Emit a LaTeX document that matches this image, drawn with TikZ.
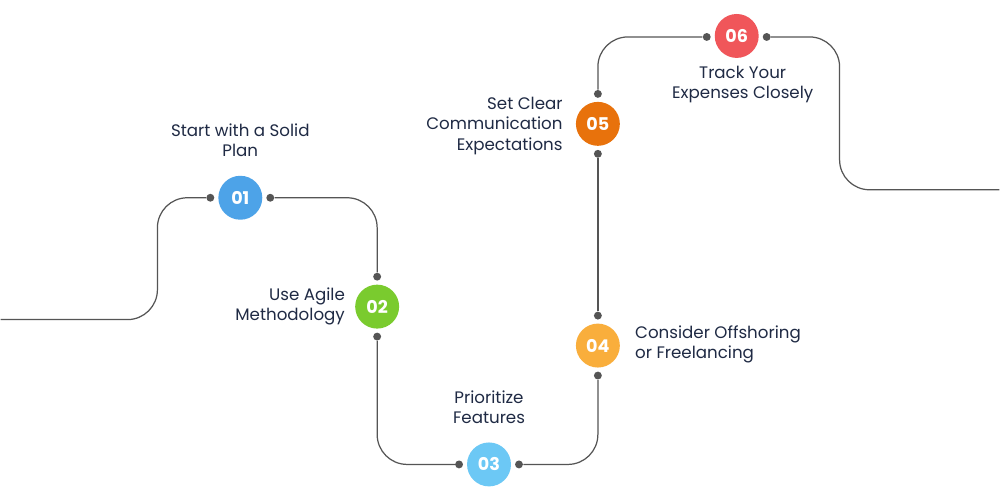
\documentclass[tikz,border=0pt]{standalone}
\usepackage{fontspec}
\setmainfont{Poppins}
\usepackage{tikz}
\usetikzlibrary{positioning}
\definecolor{inkblue}{HTML}{1F2A44}
\definecolor{lineg}{HTML}{555555}
\definecolor{cone}{HTML}{4DA3E8}
\definecolor{ctwo}{HTML}{7ACB2E}
\definecolor{cthree}{HTML}{6CC8F5}
\definecolor{cfour}{HTML}{F9AE3C}
\definecolor{cfive}{HTML}{E8720C}
\definecolor{csix}{HTML}{F0565A}
\tikzset{
  stage/.style={circle,minimum size=0.88cm,inner sep=0pt,text=white,font=\bfseries\fontsize{10}{12}\selectfont},
  lbl/.style={text=inkblue,font=\fontsize{9.5}{11.5}\selectfont,inner sep=0pt},
  dot/.style={circle,fill=lineg,minimum size=4.5pt,inner sep=0pt},
  road/.style={lineg,line width=0.7pt,rounded corners=0.6cm}
}
\begin{document}
\begin{tikzpicture}[x=0.02cm,y=-0.02cm]
    \fill[white] (0,0) rectangle (1000,500);
    % stages
    \node[stage,fill=cone] (s1) at (240,198) {01};
    \node[stage,fill=ctwo] (s2) at (377,307) {02};
    \node[stage,fill=cthree] (s3) at (489,465) {03};
    \node[stage,fill=cfour] (s4) at (598,346) {04};
    \node[stage,fill=cfive] (s5) at (598,124) {05};
    \node[stage,fill=csix] (s6) at (737,36) {06};
    % labels
    \node[lbl,align=center] (t1) at (240,140) {Start with a Solid\\Plan};
    \node[lbl,align=right,anchor=east] (t2) at (345,307) {Use Agile\\Methodology};
    \node[lbl,align=center] (t3) at (489,408) {Prioritize\\Features};
    \node[lbl,align=left,anchor=west] (t4) at (635,345) {Consider Offshoring\\or Freelancing};
    \node[lbl,align=right,anchor=east] (t5) at (563,126) {Set Clear\\Communication\\Expectations};
    \node[lbl,align=center] (t6) at (743,85) {Track Your\\Expenses Closely};
    % dots
    \node[dot] (d1l) at (210,198) {};
    \node[dot] (d1r) at (270,198) {};
    \node[dot] (d2t) at (377,277) {};
    \node[dot] (d2b) at (377,337) {};
    \node[dot] (d3l) at (459,465) {};
    \node[dot] (d3r) at (519,465) {};
    \node[dot] (d4b) at (598,376) {};
    \node[dot] (d4t) at (598,316) {};
    \node[dot] (d5b) at (598,154) {};
    \node[dot] (d5t) at (598,94) {};
    \node[dot] (d6l) at (707,37) {};
    \node[dot] (d6r) at (767,37) {};
    \coordinate (start) at (0,320);
    \coordinate (finish) at (1000,190);
    % road
    \draw[road] (start) -| (157,198) -- (d1l);
    \draw[road] (d1r) -| (d2t);
    \draw[road] (d2b) |- (d3l);
    \draw[road] (d3r) -| (d4b);
    \draw[road] (d4t) -- (d5b);
    \draw[road] (d5t) |- (d6l);
    \draw[road] (d6r) -| (840,190) -- (finish);
\end{tikzpicture}
\end{document}
